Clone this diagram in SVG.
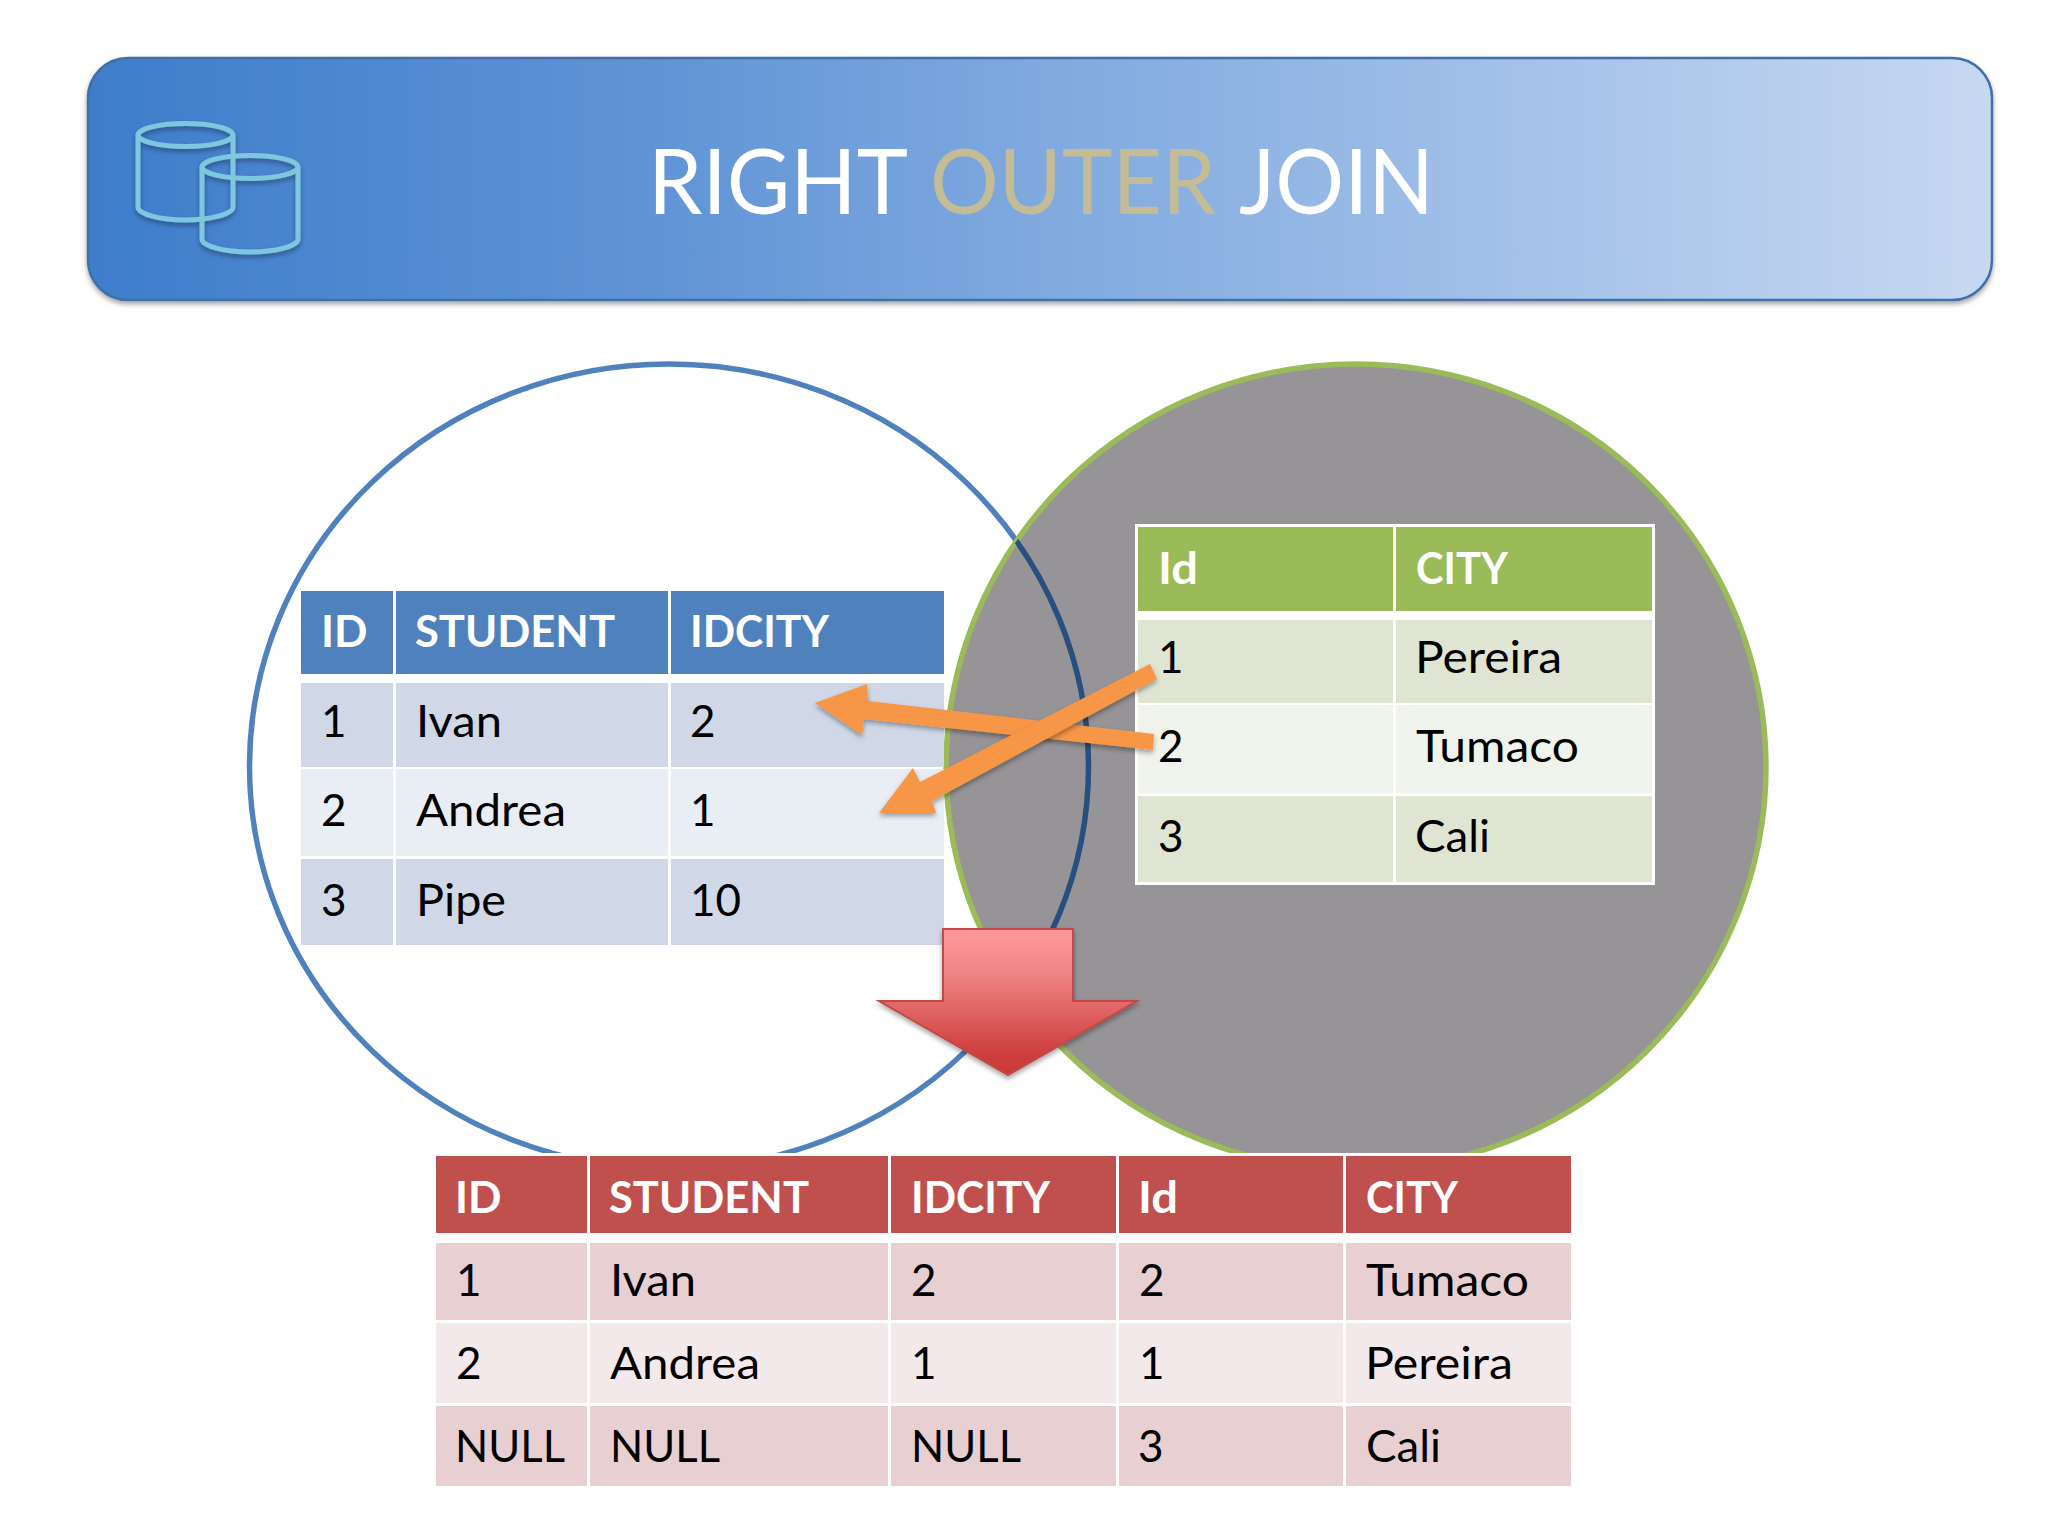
<svg xmlns="http://www.w3.org/2000/svg" width="2048" height="1536" viewBox="0 0 2048 1536">
<style>
text{font-family:"Lato","Noto Sans","Liberation Sans",sans-serif;font-size:44px;fill:#000}
.h{font-weight:700;fill:#fff}
.title{font-size:91px;fill:#fff}
.o{fill:#C4BB97}
.b1h{fill:#4F81BD}.b1a{fill:#D0D8E8}.b1b{fill:#E9EDF4}
.g1h{fill:#9BBB59}.g1a{fill:#E0E5D3}.g1b{fill:#F0F3EB}
.r1h{fill:#C0504D}.r1a{fill:#E8CFD2}.r1b{fill:#F3E9EB}
.cyl{fill:none;stroke:#7FC6DF;stroke-width:5}
.orange{fill:#F79646;filter:url(#ds)}
</style>
<defs>
<linearGradient id="hg" x1="0" y1="0" x2="1" y2="0">
<stop offset="0" stop-color="#3E7DCB"/><stop offset="0.3" stop-color="#6094D6"/><stop offset="0.5" stop-color="#7FA9DF"/><stop offset="0.75" stop-color="#A3C1E9"/><stop offset="1" stop-color="#C7D8F1"/>
</linearGradient>
<linearGradient id="rg" x1="0" y1="0" x2="0" y2="1">
<stop offset="0" stop-color="#FF9A9A"/><stop offset="0.3" stop-color="#F08585"/><stop offset="0.85" stop-color="#CF3E3E"/><stop offset="1" stop-color="#CB3A3A"/>
</linearGradient>
<filter id="ds" x="-20%" y="-20%" width="140%" height="150%"><feDropShadow dx="0" dy="3" stdDeviation="2.5" flood-color="#000" flood-opacity="0.35"/></filter>
<clipPath id="rc"><ellipse cx="1356" cy="767" rx="410" ry="403"/></clipPath>
</defs>
<rect width="2048" height="1536" fill="#FEFEFE"/>
<g id="header">
<rect x="88" y="58" width="1904" height="242" rx="40" fill="url(#hg)" stroke="#3F6FA8" stroke-width="2.5" filter="url(#ds)"/>
<g id="db-icon" filter="url(#ds)">
<path class="cyl" d="M138 135V207C138 214 160 220 185 220S233 214 233 207V135"/><ellipse class="cyl" cx="185.500" cy="135" rx="47.500" ry="11.500"/>
<path class="cyl" d="M202 167V239C202 246 224 252 250 252S298 246 298 239V167"/><ellipse class="cyl" cx="250" cy="167" rx="48" ry="11.500"/>
</g>
<text class="title" x="648" y="214" textLength="260" lengthAdjust="spacingAndGlyphs">RIGHT</text>
<text class="title o" x="930" y="214" textLength="286" lengthAdjust="spacingAndGlyphs">OUTER</text>
<text class="title" x="1239" y="214" textLength="195" lengthAdjust="spacingAndGlyphs">JOIN</text>
</g>
<g id="venn">
<ellipse id="left-set" cx="669" cy="766.500" rx="419.500" ry="402.500" fill="#fff" stroke="#4F81BD" stroke-width="5.500"/>
<ellipse id="right-set" cx="1356" cy="767" rx="410" ry="403" fill="#969496" stroke="#9BBB59" stroke-width="5.500"/>
<ellipse cx="669" cy="766.500" rx="419.500" ry="402.500" fill="none" stroke="#274F7F" stroke-width="5.500" clip-path="url(#rc)"/>
<rect x="400" y="1153" width="1300" height="80" fill="#FEFEFE"/>
</g>
<g id="table-students">
<rect class="b1h" x="301" y="591" width="92" height="83"/><rect class="b1h" x="396" y="591" width="272" height="83"/><rect class="b1h" x="671" y="591" width="273" height="83"/>
<rect class="b1a" x="301" y="683" width="92" height="84"/><rect class="b1a" x="396" y="683" width="272" height="84"/><rect class="b1a" x="671" y="683" width="273" height="84"/>
<rect class="b1b" x="301" y="769" width="92" height="87"/><rect class="b1b" x="396" y="769" width="272" height="87"/><rect class="b1b" x="671" y="769" width="273" height="87"/>
<rect class="b1a" x="301" y="859" width="92" height="86"/><rect class="b1a" x="396" y="859" width="272" height="86"/><rect class="b1a" x="671" y="859" width="273" height="86"/>
<text class="h" x="321" y="647">ID</text><text class="h" x="415" y="647" textLength="200" lengthAdjust="spacingAndGlyphs">STUDENT</text><text class="h" x="690" y="647" textLength="139" lengthAdjust="spacingAndGlyphs">IDCITY</text>
<text x="321" y="737">1</text><text x="416" y="737" textLength="86" lengthAdjust="spacingAndGlyphs">Ivan</text><text x="690" y="737">2</text>
<text x="321" y="826">2</text><text x="416" y="826" textLength="150" lengthAdjust="spacingAndGlyphs">Andrea</text><text x="690" y="826">1</text>
<text x="321" y="916">3</text><text x="416" y="916" textLength="90" lengthAdjust="spacingAndGlyphs">Pipe</text><text x="690" y="916">10</text>
</g>
<g id="table-cities">
<rect x="1135" y="524" width="520" height="361" fill="#fff"/>
<rect class="g1h" x="1138" y="527" width="255" height="84"/><rect class="g1h" x="1396" y="527" width="256" height="84"/>
<rect class="g1a" x="1138" y="620" width="255" height="83"/><rect class="g1a" x="1396" y="620" width="256" height="83"/>
<rect class="g1b" x="1138" y="705" width="255" height="88"/><rect class="g1b" x="1396" y="705" width="256" height="88"/>
<rect class="g1a" x="1138" y="796" width="255" height="86"/><rect class="g1a" x="1396" y="796" width="256" height="86"/>
<text class="h" x="1158" y="584" textLength="40" lengthAdjust="spacingAndGlyphs">Id</text><text class="h" x="1416" y="584" textLength="92" lengthAdjust="spacingAndGlyphs">CITY</text>
<text x="1158" y="673">1</text><text x="1415" y="673" textLength="147" lengthAdjust="spacingAndGlyphs">Pereira</text>
<text x="1158" y="762">2</text><text x="1416" y="762" textLength="163" lengthAdjust="spacingAndGlyphs">Tumaco</text>
<text x="1158" y="852">3</text><text x="1415" y="852" textLength="75" lengthAdjust="spacingAndGlyphs">Cali</text>
</g>
<g id="table-result">
<rect class="r1h" x="436" y="1156" width="151" height="77"/><rect class="r1h" x="590" y="1156" width="298" height="77"/><rect class="r1h" x="891" y="1156" width="225" height="77"/><rect class="r1h" x="1119" y="1156" width="224" height="77"/><rect class="r1h" x="1346" y="1156" width="225" height="77"/>
<rect class="r1a" x="436" y="1243" width="151" height="77"/><rect class="r1a" x="590" y="1243" width="298" height="77"/><rect class="r1a" x="891" y="1243" width="225" height="77"/><rect class="r1a" x="1119" y="1243" width="224" height="77"/><rect class="r1a" x="1346" y="1243" width="225" height="77"/>
<rect class="r1b" x="436" y="1323" width="151" height="80"/><rect class="r1b" x="590" y="1323" width="298" height="80"/><rect class="r1b" x="891" y="1323" width="225" height="80"/><rect class="r1b" x="1119" y="1323" width="224" height="80"/><rect class="r1b" x="1346" y="1323" width="225" height="80"/>
<rect class="r1a" x="436" y="1406" width="151" height="80"/><rect class="r1a" x="590" y="1406" width="298" height="80"/><rect class="r1a" x="891" y="1406" width="225" height="80"/><rect class="r1a" x="1119" y="1406" width="224" height="80"/><rect class="r1a" x="1346" y="1406" width="225" height="80"/>
<text class="h" x="455" y="1213">ID</text><text class="h" x="609" y="1213" textLength="200" lengthAdjust="spacingAndGlyphs">STUDENT</text><text class="h" x="911" y="1213" textLength="139" lengthAdjust="spacingAndGlyphs">IDCITY</text><text class="h" x="1138" y="1213" textLength="40" lengthAdjust="spacingAndGlyphs">Id</text><text class="h" x="1366" y="1213" textLength="92" lengthAdjust="spacingAndGlyphs">CITY</text>
<text x="456" y="1296">1</text><text x="610" y="1296" textLength="86" lengthAdjust="spacingAndGlyphs">Ivan</text><text x="911" y="1296">2</text><text x="1139" y="1296">2</text><text x="1366" y="1296" textLength="163" lengthAdjust="spacingAndGlyphs">Tumaco</text>
<text x="456" y="1379">2</text><text x="610" y="1379" textLength="150" lengthAdjust="spacingAndGlyphs">Andrea</text><text x="911" y="1379">1</text><text x="1139" y="1379">1</text><text x="1365" y="1379" textLength="148" lengthAdjust="spacingAndGlyphs">Pereira</text>
<text x="455" y="1462" textLength="110" lengthAdjust="spacingAndGlyphs">NULL</text><text x="610" y="1462" textLength="110" lengthAdjust="spacingAndGlyphs">NULL</text><text x="911" y="1462" textLength="110" lengthAdjust="spacingAndGlyphs">NULL</text><text x="1138" y="1462">3</text><text x="1366" y="1462" textLength="75" lengthAdjust="spacingAndGlyphs">Cali</text>
</g>
<g id="connectors">
<polygon class="orange" points="1154,734 1153,750 864,719 862,735 815,703 867,684 868,701"/>
<polygon class="orange" points="1150,664 1157,679 932,801 936,813 879,813 913,768 920,782"/>
</g>
<g id="down-arrow">
<polygon points="943,929 1073,929 1073,1001 1137,1001 1008,1075 879,1001 943,1001" fill="url(#rg)" stroke="#BE4B48" stroke-width="2" filter="url(#ds)"/>
</g>
</svg>
